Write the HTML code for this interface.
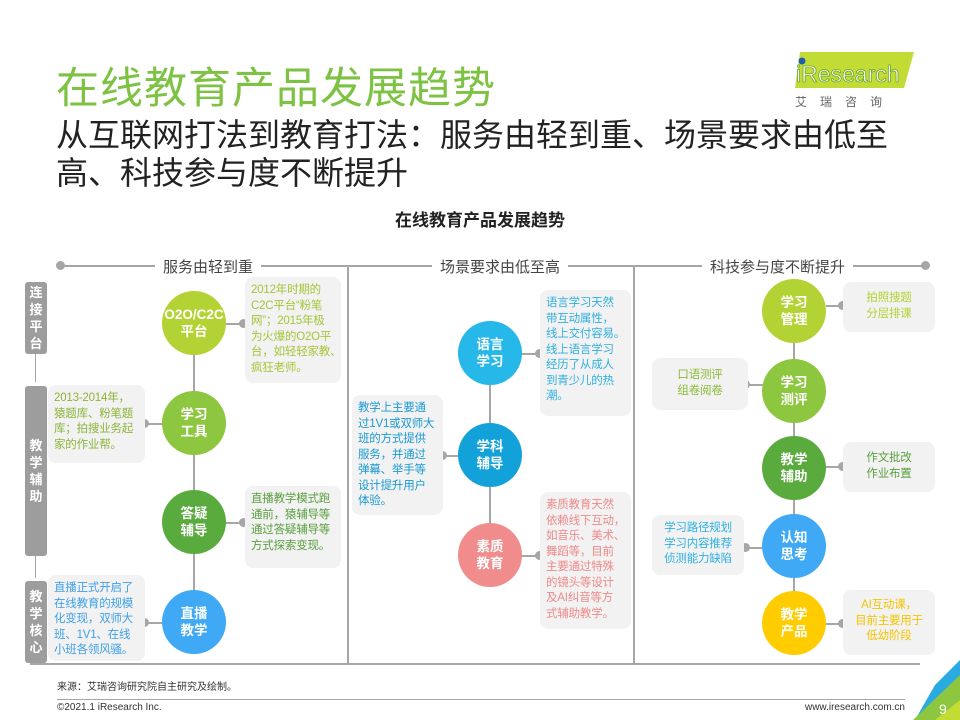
<!DOCTYPE html>
<html><head><meta charset="utf-8"><style>
*{margin:0;padding:0;box-sizing:border-box}
body{width:960px;height:720px;background:#fff;position:relative;overflow:hidden;font-family:"Liberation Sans","Noto Sans CJK SC",sans-serif}
.a{position:absolute}
.c{position:absolute;width:64px;height:64px;border-radius:50%;color:#fff;font-weight:bold;font-size:13.5px;line-height:17px;display:flex;align-items:center;justify-content:center;text-align:center}
.b{position:absolute;background:#f2f2f2;border-radius:8px;font-size:11.5px;line-height:15.5px;padding:6px 6px;white-space:nowrap;letter-spacing:-0.2px}
.side{position:absolute;left:25px;width:22px;background:#9d9d9d;border-radius:3px;color:#fff;font-weight:bold;font-size:13px;line-height:17px;text-align:center;display:flex;align-items:center;justify-content:center}
.dot{position:absolute;width:9px;height:9px;border-radius:50%;background:#a6a6a6}
.h{position:absolute;height:2px;background:#a6a6a6}
.v{position:absolute;width:2px;background:#a6a6a6}
.sh{position:absolute;top:256px;font-size:15px;color:#444;background:#fff;padding:0 8px}
</style></head><body>
<div class="a" style="left:56px;top:54px;font-size:43px;color:#7dc242;letter-spacing:1px">在线教育产品发展趋势</div>
<div class="a" style="left:56px;top:116px;font-size:32px;color:#222;line-height:38px;width:880px">从互联网打法到教育打法：服务由轻到重、场景要求由低至<br>高、科技参与度不断提升</div>
<svg class="a" style="left:790px;top:50px" width="125" height="42"><polygon points="10,2 124,2 114,38 5,38" fill="#c3dc35"/><circle cx="12" cy="11" r="3.5" fill="#1f5fa8"/><text x="6" y="32" font-family="Liberation Sans" font-size="23" fill="#fff" stroke="#6aa52a" stroke-width="0.8">iResearch</text></svg>
<div class="a" style="left:795px;top:93px;font-size:12px;color:#666;letter-spacing:13px">艾瑞咨询</div>
<div class="a" style="left:0;width:960px;top:206px;text-align:center;font-size:17px;font-weight:bold;color:#222">在线教育产品发展趋势</div>
<div class="h" style="left:60px;width:866px;top:265px"></div>
<div class="dot" style="left:56px;top:261px"></div><div class="dot" style="left:921px;top:261px"></div>
<div class="sh" style="left:155px">服务由轻到重</div>
<div class="sh" style="left:432px">场景要求由低至高</div>
<div class="sh" style="left:702px">科技参与度不断提升</div>
<div class="v" style="left:347px;top:266px;height:398px"></div>
<div class="v" style="left:633px;top:266px;height:398px"></div>
<div class="h" style="left:30px;width:890px;top:663px"></div>
<div class="side" style="top:282px;height:72px">连<br>接<br>平<br>台</div>
<div class="side" style="top:386px;height:170px">教<br>学<br>辅<br>助</div>
<div class="side" style="top:581px;height:82px">教<br>学<br>核<br>心</div>
<div class="v" style="left:35px;top:354px;height:28px;width:1px"></div>
<div class="v" style="left:35px;top:556px;height:22px;width:1px"></div>
<!-- col1 -->
<div class="v" style="left:193px;top:323px;height:300px"></div>
<div class="h" style="left:226px;width:16px;top:323px"></div><div class="dot" style="left:239px;top:319px"></div>
<div class="h" style="left:148px;width:16px;top:423px"></div><div class="dot" style="left:140px;top:419px"></div>
<div class="h" style="left:226px;width:16px;top:522px"></div><div class="dot" style="left:239px;top:518px"></div>
<div class="h" style="left:148px;width:16px;top:622px"></div><div class="dot" style="left:140px;top:618px"></div>
<div class="c" style="left:162px;top:291px;background:#b3d234">O2O/C2C<br>平台</div>
<div class="c" style="left:162px;top:391px;background:#8dc63f">学习<br>工具</div>
<div class="c" style="left:162px;top:490px;background:#5aab3e">答疑<br>辅导</div>
<div class="c" style="left:162px;top:590px;background:#3fa9f5">直播<br>教学</div>
<div class="b" style="left:245px;top:277px;width:96px;height:106px;color:#a4c639">2012年时期的<br>C2C平台“粉笔<br>网”；2015年极<br>为火爆的O2O平<br>台，如轻轻家教、<br>疯狂老师。</div>
<div class="b" style="left:48px;top:385px;width:97px;height:78px;color:#8cb53a">2013-2014年，<br>猿题库、粉笔题<br>库；拍搜业务起<br>家的作业帮。</div>
<div class="b" style="left:245px;top:486px;width:96px;height:82px;color:#5a9e3e">直播教学模式跑<br>通前，猿辅导等<br>通过答疑辅导等<br>方式探索变现。</div>
<div class="b" style="left:48px;top:575px;width:97px;height:86px;color:#3fa0e8">直播正式开启了<br>在线教育的规模<br>化变现，双师大<br>班、1V1、在线<br>小班各领风骚。</div>
<!-- col2 -->
<div class="v" style="left:489px;top:353px;height:202px"></div>
<div class="h" style="left:522px;width:16px;top:353px"></div><div class="dot" style="left:535px;top:349px"></div>
<div class="h" style="left:445px;width:16px;top:455px"></div><div class="dot" style="left:438px;top:451px"></div>
<div class="h" style="left:522px;width:16px;top:555px"></div><div class="dot" style="left:535px;top:551px"></div>
<div class="c" style="left:458px;top:321px;background:#27b8ea">语言<br>学习</div>
<div class="c" style="left:458px;top:423px;background:#12a2d9">学科<br>辅导</div>
<div class="c" style="left:458px;top:523px;background:#f08c8c">素质<br>教育</div>
<div class="b" style="left:540px;top:290px;width:91px;height:126px;color:#2eb0e0">语言学习天然<br>带互动属性，<br>线上交付容易。<br>线上语言学习<br>经历了从成人<br>到青少儿的热<br>潮。</div>
<div class="b" style="left:352px;top:395px;width:91px;height:120px;color:#1a9ad2">教学上主要通<br>过1V1或双师大<br>班的方式提供<br>服务，并通过<br>弹幕、举手等<br>设计提升用户<br>体验。</div>
<div class="b" style="left:540px;top:492px;width:91px;height:137px;color:#ee8a8a">素质教育天然<br>依赖线下互动，<br>如音乐、美术、<br>舞蹈等，目前<br>主要通过特殊<br>的镜头等设计<br>及AI纠音等方<br>式辅助教学。</div>
<!-- col3 -->
<div class="v" style="left:793px;top:310px;height:312px"></div>
<div class="h" style="left:826px;width:16px;top:305px"></div><div class="dot" style="left:838px;top:301px"></div>
<div class="h" style="left:748px;width:16px;top:384px"></div><div class="dot" style="left:741px;top:380px"></div>
<div class="h" style="left:826px;width:16px;top:466px"></div><div class="dot" style="left:838px;top:462px"></div>
<div class="h" style="left:748px;width:16px;top:547px"></div><div class="dot" style="left:741px;top:543px"></div>
<div class="h" style="left:826px;width:16px;top:623px"></div><div class="dot" style="left:838px;top:619px"></div>
<div class="c" style="left:762px;top:279px;background:#b3d234">学习<br>管理</div>
<div class="c" style="left:762px;top:359px;background:#8dc63f">学习<br>测评</div>
<div class="c" style="left:762px;top:436px;background:#5aab3e">教学<br>辅助</div>
<div class="c" style="left:762px;top:514px;background:#3fa9f5">认知<br>思考</div>
<div class="c" style="left:762px;top:591px;background:#ffcc00">教学<br>产品</div>
<div class="b" style="left:843px;top:282px;width:92px;height:50px;color:#b3d234;text-align:center;padding-top:9px">拍照搜题<br>分层排课</div>
<div class="b" style="left:652px;top:358px;width:96px;height:52px;color:#8dbb3a;text-align:center;padding-top:10px">口语测评<br>组卷阅卷</div>
<div class="b" style="left:843px;top:442px;width:92px;height:50px;color:#5a9e3e;text-align:center;padding-top:9px">作文批改<br>作业布置</div>
<div class="b" style="left:652px;top:515px;width:92px;height:60px;color:#2eb0e0;text-align:center;padding-top:6px">学习路径规划<br>学习内容推荐<br>侦测能力缺陷</div>
<div class="b" style="left:843px;top:590px;width:92px;height:65px;color:#f5c400;text-align:center;padding-top:8px">AI互动课，<br>目前主要用于<br>低幼阶段</div>
<!-- footer -->
<div class="a" style="left:57px;top:678px;font-size:10px;color:#333">来源：艾瑞咨询研究院自主研究及绘制。</div>
<div class="h" style="left:57px;width:848px;top:699px;height:1px"></div>
<div class="a" style="left:57px;top:702px;font-size:10px;color:#333">©2021.1 iResearch Inc.</div>
<div class="a" style="left:780px;top:702px;width:125px;text-align:right;font-size:10px;color:#333">www.iresearch.com.cn</div>
<svg class="a" style="left:905px;top:660px" width="55" height="60"><polygon points="55,0 55,30 10,60 30,25" fill="#29abe2"/><polygon points="55,15 55,60 8,60" fill="#8dc63f"/><polygon points="55,40 55,60 30,60" fill="#c3dc35"/><text x="34" y="54" font-family="Liberation Sans" font-size="14" fill="#fff">9</text></svg>
</body></html>
